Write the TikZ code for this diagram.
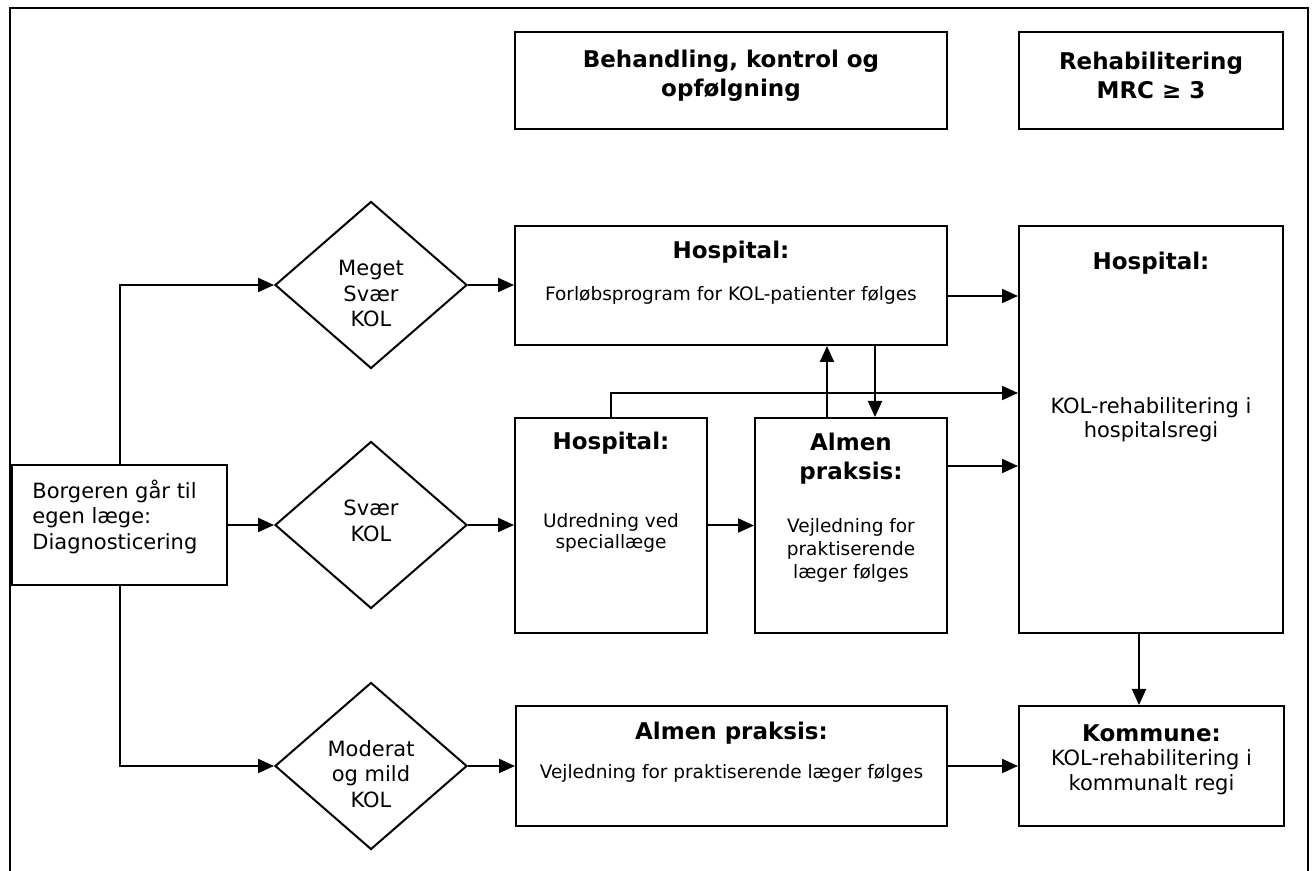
\documentclass[tikz,border=0pt]{standalone}
\usepackage{fontspec}
\setmainfont{DejaVu Sans}
\usetikzlibrary{arrows.meta,shapes.geometric}

\tikzset{
  box/.style={draw, line width=1pt, inner sep=0pt, rectangle},
  dia/.style={draw, line width=1pt, inner sep=0pt, diamond, aspect=1.15,
              minimum width=96pt, minimum height=83.5pt},
  arr/.style={line width=1pt, -{Triangle[length=8pt,width=7pt]}},
  ttl/.style={font=\fontsize{11.5}{14.5}\selectfont\bfseries, align=center, inner sep=0pt},
  txt/.style={font=\fontsize{10.5}{12.6}\selectfont, align=center, inner sep=0pt},
  sml/.style={font=\fontsize{9.25}{11}\selectfont, align=center, inner sep=0pt}
}

\begin{document}
\begin{tikzpicture}[x=0.5pt, y=-0.5pt]
\useasboundingbox (0,0) rectangle (1314,871);

% outer frame (open at the bottom)
\draw[line width=1pt] (10,871) -- (10,8) -- (1308,8) -- (1308,871);

% column headers
\node[box, minimum width=216pt, minimum height=48.5pt] (hd1) at (731,80.5) {};
\node[ttl] (hd1t) at (731,75.5) {Behandling, kontrol og\\opfølgning};
\node[box, minimum width=132pt, minimum height=48.5pt] (hd2) at (1151,80.5) {};
\node[ttl] (hd2t) at (1151,75.5) {Rehabilitering\\MRC ≥ 3};

% start box
\node[box, minimum width=107.5pt, minimum height=60pt] (bor) at (119.5,525) {};
\node[txt, anchor=west, align=left, font=\fontsize{10.5}{12.75}\selectfont] (bort) at (32,516.5)
  {Borgeren går til\\egen læge:\\Diagnosticering};

% severity decisions
\node[dia] (d1) at (371,285) {};
\node[txt, font=\fontsize{10.5}{12.75}\selectfont] (d1t) at (371,293.5) {Meget\\Svær\\KOL};
\node[dia] (d2) at (371,525) {};
\node[txt, font=\fontsize{10.5}{12.75}\selectfont] (d2t) at (371,521) {Svær\\KOL};
\node[dia] (d3) at (371,766) {};
\node[txt, font=\fontsize{10.5}{12.75}\selectfont] (d3t) at (371,774) {Moderat\\og mild\\KOL};

% treatment column
\node[box, minimum width=216pt, minimum height=59.5pt] (hosp1) at (731,285.5) {};
\node[ttl] (hosp1a) at (731,252) {Hospital:};
\node[sml] (hosp1b) at (731,295) {Forløbsprogram for KOL-patienter følges};

\node[box, minimum width=96pt, minimum height=107.5pt] (hosp2) at (611,525.5) {};
\node[ttl] (hosp2a) at (611,443) {Hospital:};
\node[sml, font=\fontsize{9.25}{10.5}\selectfont] (hosp2b) at (611,533) {Udredning ved\\speciallæge};

\node[box, minimum width=96pt, minimum height=107.5pt] (alm1) at (851,525.5) {};
\node[ttl] (alm1a) at (851,458.5) {Almen\\praksis:};
\node[sml, font=\fontsize{9.25}{11.5}\selectfont] (alm1b) at (851,550) {Vejledning for\\praktiserende\\læger følges};

\node[box, minimum width=215.5pt, minimum height=60pt] (alm2) at (731.5,766) {};
\node[ttl] (alm2a) at (731.5,733) {Almen praksis:};
\node[sml] (alm2b) at (731.5,773) {Vejledning for praktiserende læger følges};

% rehabilitation column
\node[box, minimum width=132pt, minimum height=203.5pt] (rehab) at (1151,429.5) {};
\node[ttl] (rehaba) at (1151,263) {Hospital:};
\node[txt, font=\fontsize{10.5}{12}\selectfont] (rehabb) at (1151,420) {KOL-rehabilitering i\\hospitalsregi};

\node[box, minimum width=132.5pt, minimum height=60pt] (kom) at (1151.5,766) {};
\node[ttl] (koma) at (1151.5,733) {Kommune:};
\node[txt, font=\fontsize{10.5}{12.5}\selectfont] (komb) at (1151.5,772.5) {KOL-rehabilitering i\\kommunalt regi};

% routing points
\coordinate (jh) at (0,393);
\coordinate (ja) at (0,466);
\coordinate (jp) at (0,296);

% connectors
\draw[arr] (bor.north) |- (d1.west);
\draw[arr] (bor.east) -- (d2.west);
\draw[arr] (bor.south) |- (d3.west);

\draw[arr] (d1.east) -- (d1.east -| hosp1.west);
\draw[arr] (d2.east) -- (d2.east -| hosp2.west);
\draw[arr] (d3.east) -- (d3.east -| alm2.west);

\draw[arr] (jp -| hosp1.east) -- (jp -| rehab.west);
\draw[arr] (hosp2.north) -- (hosp2.north |- jh) -- (jh -| rehab.west);
\draw[arr] ([xshift=-12pt]alm1.north) -- ([xshift=-12pt]alm1.north |- hosp1.south);
\draw[arr] ([xshift=12pt]alm1.north |- hosp1.south) -- ([xshift=12pt]alm1.north);
\draw[arr] (ja -| alm1.east) -- (ja -| rehab.west);
\draw[arr] (hosp2.east) -- (hosp2.east -| alm1.west);

\draw[arr] (alm2.east) -- (alm2.east -| kom.west);
\draw[arr] ([xshift=-6pt]rehab.south) -- ([xshift=-6pt]rehab.south |- kom.north);
\end{tikzpicture}
\end{document}
